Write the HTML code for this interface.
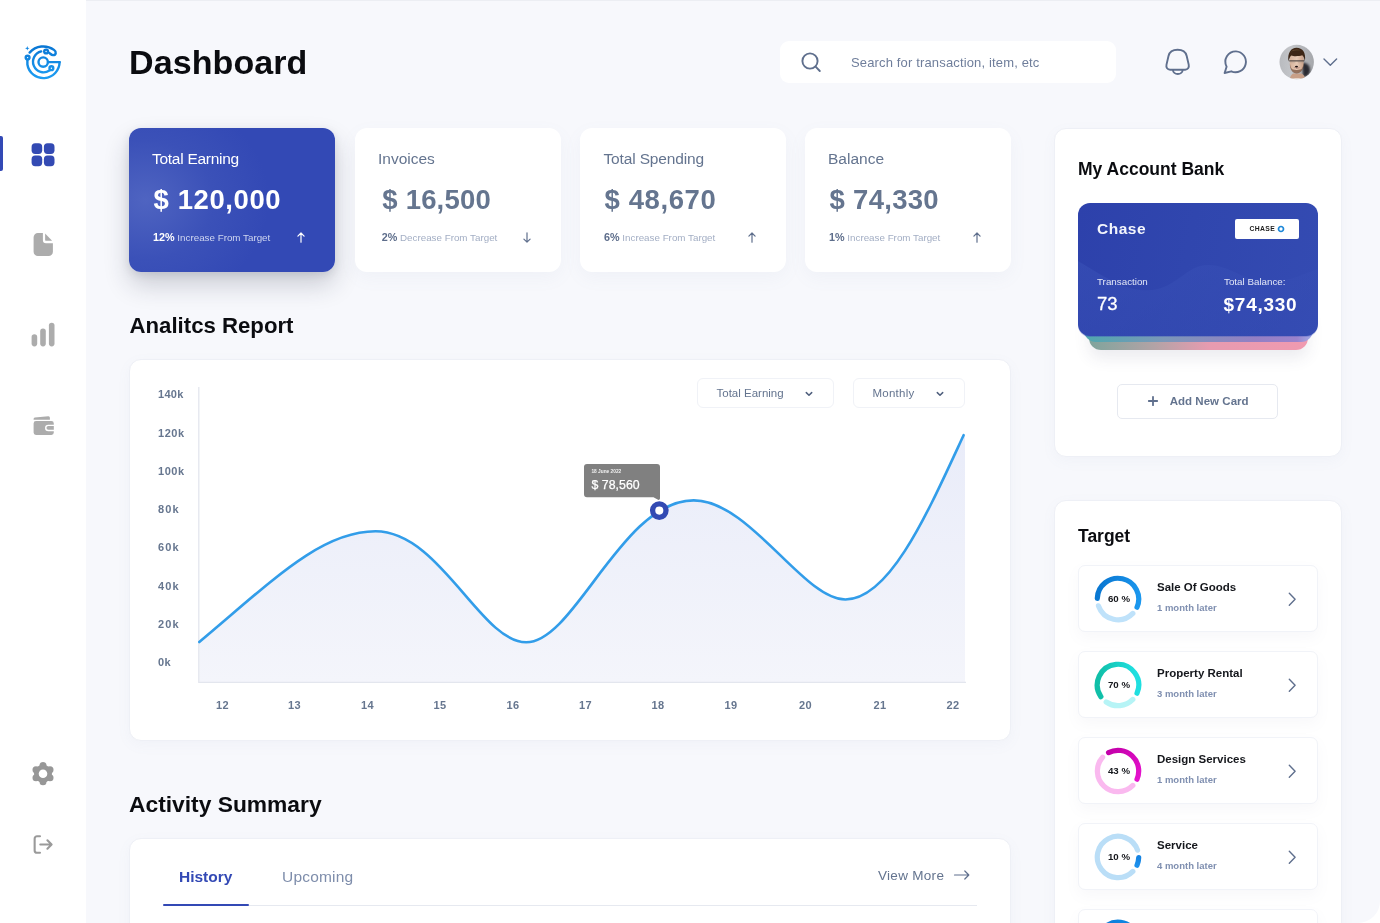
<!DOCTYPE html>
<html lang="en">
<head>
<meta charset="utf-8">
<title>Dashboard</title>
<style>
*{box-sizing:border-box;margin:0;padding:0}
html,body{width:1380px;height:923px;overflow:hidden;background:#fff}
body{font-family:"Liberation Sans",sans-serif;color:#0f1115;position:relative}
#page{position:absolute;left:0;top:0;width:1380px;height:923px;background:#f7f8fc;border-bottom-right-radius:22px;overflow:hidden}
#topline{position:absolute;left:0;top:0;width:1380px;height:1px;background:#eceef3}
.a{position:absolute}
.t{position:absolute;white-space:nowrap;line-height:1}
.b{font-weight:700}
#side{position:absolute;left:0;top:0;width:86px;height:923px;background:#fff}
.h1{font-size:34px;font-weight:700;color:#0b0c10;letter-spacing:.1px}
.h2{font-size:22px;font-weight:700;color:#0b0c10}
.h3{font-size:17.5px;font-weight:700;color:#0b0c10}
.card{position:absolute;background:#fff;border-radius:12px}
.stat{width:206px;height:144px;top:128px;box-shadow:0 6px 18px rgba(120,130,170,.06)}
.stat .lab{left:23px;top:23px;font-size:15.5px;color:#64748f}
.stat .val{left:24.500px;top:58px;font-size:27.5px;letter-spacing:.2px;font-weight:700;color:#65758f}
.stat .sub{left:24px;top:104px;font-size:9.8px;color:#a3aec4}
.stat .sub b{color:#5d6d8b;font-size:10.8px}
.stat svg{position:absolute;left:166.300px;top:102px}
.s1{background:radial-gradient(ellipse 60% 75% at 8% 50%,#4f64c1 0%,#3b51b8 55%,#3349b5 100%);box-shadow:0 13px 26px rgba(30,35,60,.20),0 3px 8px rgba(30,35,60,.10)}
.s1 .lab,.s1 .val,.s1 .sub b{color:#fff}
.s1 .sub{color:#cfd6f0}
.panel{position:absolute;background:#fff;border-radius:12px;border:1px solid #eef0f6}
.ylab{font-size:11px;font-weight:700;letter-spacing:.3px;color:#66768f;left:158px}
.xlab{font-size:11px;font-weight:700;letter-spacing:.3px;color:#66768f;top:699.500px;transform:translateX(-50%)}
.dd{position:absolute;top:378px;height:30px;border:1px solid #f0f2f7;border-radius:6px;background:#fff}
.dd .t{font-size:11.5px;color:#64748f;top:9px}
.titem{position:absolute;left:1078px;width:240px;height:67px;background:#fff;border:1px solid #f1f3f8;border-radius:7px;box-shadow:0 6px 14px rgba(120,130,170,.055)}
.titem .nm{left:78px;top:15.500px;font-size:11.5px;font-weight:700;color:#15171c}
.titem .sb{left:78px;top:37px;font-size:9.5px;font-weight:700;color:#7f8fb0}
.titem .pc{left:0;width:80px;text-align:center;top:28.200px;font-size:9.700px;font-weight:700;color:#15171c}
.titem svg.dn{position:absolute;left:14.500px;top:8.500px}
.titem svg.ch{position:absolute;left:206.500px;top:23.700px}
</style>
</head>
<body>
<div id="page">
<div id="topline"></div>

<!-- SIDEBAR -->
<div id="side">
<!-- logo -->
<svg class="a" style="left:18px;top:38px" width="50" height="50" viewBox="0 0 50 50" fill="none">
<defs><linearGradient id="lg" x1="0" y1="6" x2="0" y2="42" gradientUnits="userSpaceOnUse"><stop offset="0" stop-color="#0874d2"/><stop offset="1" stop-color="#1e9ff4"/></linearGradient></defs>
<g stroke="url(#lg)" stroke-width="2.4" stroke-linecap="round" stroke-linejoin="round">
<circle cx="25.2" cy="24.1" r="4.7"/>
<path d="M30 24.1H41.6"/>
<path d="M41.6 24.1A16.2 16.2 0 0 1 9.4 26.5V22.3"/>
<circle cx="9.6" cy="19.6" r="1.9"/>
<path d="M11.6 14.6A18.3 18.3 0 0 1 36 11.9C38.7 13.8 38.2 17 35 17.1C33 17.1 32.2 15.2 30.5 14.5"/>
<circle cx="28.1" cy="13.5" r="1.9"/>
<path d="M23.2 13.4A10.6 10.6 0 1 0 31.4 32.6"/>
<circle cx="33.4" cy="30.2" r="1.9"/>
</g>
<path d="M9.3 8.1L9.9 9.7L11.5 10.3L9.9 10.9L9.3 12.5L8.700 10.9L7.100 10.3L8.700 9.7Z" fill="#1488e4"/>
</svg>
<!-- active bar -->
<div class="a" style="left:0;top:136px;width:3px;height:35px;background:#3349b5;border-radius:0 2px 2px 0"></div>
<!-- dashboard icon -->
<svg class="a" style="left:31px;top:143px" width="24" height="24" viewBox="0 0 24 24" fill="#334ab3">
<rect x=".6" y=".3" width="10.6" height="10.6" rx="3.6"/><rect x="12.9" y=".3" width="10.6" height="10.6" rx="3.6"/><rect x=".6" y="12.6" width="10.6" height="10.6" rx="3.6"/><rect x="12.9" y="12.6" width="10.6" height="10.6" rx="3.6"/>
</svg>
<!-- file icon -->
<svg class="a" style="left:31px;top:231px" width="24" height="26" viewBox="0 0 24 26" fill="#acacac">
<path d="M6.900 2H11.900V9.200A3 3 0 0 0 14.900 12.200H21.900V20.700A4.300 4.300 0 0 1 17.600 25H6.900A4.300 4.300 0 0 1 2.600 20.700V6.300A4.300 4.300 0 0 1 6.900 2Z"/>
<path d="M14.100 2.600L21.100 9.800H14.800A.7 .7 0 0 1 14.100 9.100Z"/>
</svg>
<!-- bars icon -->
<svg class="a" style="left:31px;top:322px" width="24" height="26" viewBox="0 0 24 26" fill="#acacac">
<rect x=".6" y="12.2" width="5.6" height="12.2" rx="2.8"/><rect x="9.2" y="6.6" width="5.6" height="17.8" rx="2.8"/><rect x="17.9" y=".8" width="5.6" height="23.6" rx="2.8"/>
</svg>
<!-- wallet icon -->
<svg class="a" style="left:31px;top:414px" width="24" height="23" viewBox="0 0 24 23" fill="#acacac">
<path d="M2.600 5.700V4.900A1.400 1.400 0 0 1 3.800 3.500L17.300 2.200A1.500 1.500 0 0 1 18.900 3.700V5.700Z"/>
<path d="M5 7H20.400A2.400 2.400 0 0 1 22.800 9.400V10.700H17.300A3.250 3.250 0 0 0 17.300 17.200H22.800V18.500A2.400 2.400 0 0 1 20.400 20.900H5A2.400 2.400 0 0 1 2.600 18.500V9.400A2.400 2.400 0 0 1 5 7Z"/>
<path d="M17.300 12H22.800V15.700H17.300A1.850 1.850 0 0 1 17.300 12Z"/>
</svg>
<!-- gear icon -->
<svg class="a" style="left:31px;top:761px" width="24" height="25" viewBox="0 0 24 25" fill="#979797">
<circle cx="12" cy="12.7" r="9"/><circle cx="12.00" cy="4.60" r="3.5"/><circle cx="19.01" cy="8.65" r="3.5"/><circle cx="19.01" cy="16.75" r="3.5"/><circle cx="12.00" cy="20.80" r="3.5"/><circle cx="4.99" cy="16.75" r="3.5"/><circle cx="4.99" cy="8.65" r="3.5"/><circle cx="12" cy="12.700" r="4.300" fill="#fff"/>
</svg>
<!-- logout icon -->
<svg class="a" style="left:31px;top:833px" width="24" height="23" viewBox="0 0 24 23" fill="none" stroke="#9a9a9a" stroke-width="2.100" stroke-linecap="round" stroke-linejoin="round">
<path d="M9 3.250H6.050A2.400 2.400 0 0 0 3.650 5.650V17.400A2.400 2.400 0 0 0 6.050 19.800H9"/>
<path d="M9.300 11.500H20.400M16.400 7.300L20.600 11.500L16.400 15.700"/>
</svg>
</div>

<!-- HEADER -->
<div class="t h1" style="left:129px;top:45px">Dashboard</div>
<div class="a" style="left:780px;top:41px;width:336px;height:42px;background:#fff;border-radius:9px"></div>
<svg class="a" style="left:799px;top:50px" width="24" height="24" viewBox="0 0 24 24" fill="none" stroke="#5f6f8d" stroke-width="1.9" stroke-linecap="round"><circle cx="11" cy="11" r="7.6"/><path d="M16.600 16.700L20.800 21"/></svg>
<div class="t" style="left:851px;top:56px;font-size:13px;letter-spacing:.15px;color:#6f7e9b">Search for transaction, item, etc</div>
<!-- bell -->
<svg class="a" style="left:1162px;top:46px" width="32" height="32" viewBox="0 0 32 32" fill="none" stroke="#5f6f8d" stroke-width="1.9" stroke-linecap="round" stroke-linejoin="round">
<path d="M15.600 3.800C11.200 3.800 7.500 5.900 6.500 10L4.500 18.600C3.800 21.600 5.500 23.700 8.100 23.700H23.100C25.700 23.700 27.400 21.600 26.700 18.600L24.700 10C23.700 5.900 20 3.800 15.600 3.800Z"/>
<path d="M11 23.900A4.800 4.100 0 0 0 20.600 23.900"/>
</svg>
<!-- chat -->
<svg class="a" style="left:1220px;top:46px" width="32" height="32" viewBox="0 0 32 32" fill="none" stroke="#5f6f8d" stroke-width="1.9" stroke-linecap="round" stroke-linejoin="round">
<path d="M16 5.400A10.400 10.400 0 1 1 11.300 25.300L4.600 27L6.600 20.700A10.400 10.400 0 0 1 16 5.400Z"/>
</svg>
<!-- avatar -->
<svg class="a" style="left:1279px;top:44px" width="36" height="36" viewBox="0 0 36 36">
<defs><clipPath id="avc"><circle cx="17.700" cy="18.050" r="17.200"/></clipPath><filter id="avb" x="-30%" y="-30%" width="160%" height="160%"><feGaussianBlur stdDeviation=".7"/></filter><filter id="avb2" x="-30%" y="-30%" width="160%" height="160%"><feGaussianBlur stdDeviation="1.300"/></filter>
<linearGradient id="avbg" x1="0" y1="0" x2="1" y2="0"><stop offset="0" stop-color="#b9bbbf"/><stop offset=".35" stop-color="#c3c5c9"/><stop offset=".7" stop-color="#b1b3b7"/><stop offset="1" stop-color="#a4a6aa"/></linearGradient>
<linearGradient id="avsk" x1="0" y1="0" x2="1" y2="0"><stop offset="0" stop-color="#d8b49c"/><stop offset=".5" stop-color="#e6c9b4"/><stop offset="1" stop-color="#c9a189"/></linearGradient></defs>
<g clip-path="url(#avc)"><rect width="36" height="36" fill="url(#avbg)"/>
<path d="M23 19C27 18 31 21 31 26S28 33 24 33Z" fill="#2b2b30" filter="url(#avb2)"/>
<g filter="url(#avb)">
<path d="M10.500 36C11 32.500 12.500 30.500 14 29.500H22.500C24.500 30.500 26 32.500 26.500 36Z" fill="#c89f87"/>
<path d="M8 37C9 35 13 34.300 18 34.300S27 35 28.500 37Z" fill="#efe6df"/>
<path d="M10.800 13C10.800 9 13.500 8 17.700 8S24.600 9 24.600 13V19.500C24.600 24.500 21.300 29 17.700 29S10.800 24.500 10.800 19.500Z" fill="url(#avsk)"/>
<path d="M10.900 19.500C11.500 23.500 12.500 25 14 25.600C16 26.200 19.500 26.200 21.500 25.600C23 25 24 23.500 24.500 19.500C24.800 25.500 21.600 29.500 17.700 29.500S10.600 25.500 10.900 19.500Z" fill="#7a5440" opacity=".75"/>
<path d="M9.500 17.500C8.200 9 12 3.800 17.500 3.800C23.700 3.800 27.200 8.500 25.900 17.500C25.400 14 24.600 12.200 23.200 11.200C20 12.300 14.500 12.500 12.300 11.400C10.900 12.600 10.200 14.500 9.500 17.500Z" fill="#3c2819"/>
<path d="M12 7.500C14 5.200 19 4.800 22 6.500C19 6 15 6.300 12 7.500Z" fill="#6a4a30"/>
<path d="M10.200 16.900H25.200" stroke="#3a3636" stroke-width="1"/>
<path d="M11.200 17.300H16.200V19.200H11.200ZM19 17.300H24V19.200H19Z" fill="#8a7f7c" opacity=".18"/>
<path d="M14.500 23.200C16 24.800 19.500 24.800 21 23.200C19.500 24 16 24 14.500 23.200Z" fill="#8a4a48"/>
<ellipse cx="17.500" cy="22.600" rx="1.500" ry=".85" fill="#1a0f0f"/>
</g></g>
</svg>
<svg class="a" style="left:1322px;top:56px" width="16" height="12" viewBox="0 0 16 12" fill="none" stroke="#5f6f8d" stroke-width="1.400" stroke-linecap="round" stroke-linejoin="round"><path d="M2 3L8.300 9.200L14.600 3"/></svg>

<!-- STATS -->
<div class="card stat s1" style="left:129px">
<div class="t lab" style="letter-spacing:-.27px">Total Earning</div><div class="t val" style="letter-spacing:.6px">$ 120,000</div><div class="t sub"><b>12%</b> Increase From Target</div><svg width="12" height="14" viewBox="0 0 12 14" fill="none" stroke="#ffffff" stroke-width="1.2" stroke-linecap="round" stroke-linejoin="round"><path d="M6 12.200V3.200M2.900 6.100L6 3L9.100 6.100"/></svg>
</div>
<div class="card stat" style="left:355px">
<div class="t lab">Invoices</div><div class="t val" style="left:27.300px">$ 16,500</div><div class="t sub" style="left:26.700px"><b>2%</b> Decrease From Target</div><svg width="12" height="14" viewBox="0 0 12 14" fill="none" stroke="#5f6f8d" stroke-width="1.2" stroke-linecap="round" stroke-linejoin="round"><path d="M6 2.800V12M2.900 9.100L6 12.200L9.100 9.100"/></svg>
</div>
<div class="card stat" style="left:580px">
<div class="t lab" style="letter-spacing:-.15px;left:23.500px">Total Spending</div><div class="t val" style="letter-spacing:.6px">$ 48,670</div><div class="t sub"><b>6%</b> Increase From Target</div><svg width="12" height="14" viewBox="0 0 12 14" fill="none" stroke="#5f6f8d" stroke-width="1.2" stroke-linecap="round" stroke-linejoin="round"><path d="M6 12.200V3.200M2.900 6.100L6 3L9.100 6.100"/></svg>
</div>
<div class="card stat" style="left:805px">
<div class="t lab">Balance</div><div class="t val" style="letter-spacing:.3px">$ 74,330</div><div class="t sub"><b>1%</b> Increase From Target</div><svg width="12" height="14" viewBox="0 0 12 14" fill="none" stroke="#5f6f8d" stroke-width="1.2" stroke-linecap="round" stroke-linejoin="round"><path d="M6 12.200V3.200M2.900 6.100L6 3L9.100 6.100"/></svg>
</div>

<!-- ANALYTICS -->
<div class="panel" style="left:129px;top:359px;width:882px;height:381.500px;box-shadow:0 4px 14px rgba(120,130,170,.05)"></div>
<div class="t ylab" style="top:389.2px">140k</div><div class="t ylab" style="top:427.5px;letter-spacing:.55px">120k</div><div class="t ylab" style="top:465.8px;letter-spacing:.55px">100k</div><div class="t ylab" style="top:504.1px;letter-spacing:1.1px">80k</div><div class="t ylab" style="top:542.4px;letter-spacing:1.1px">60k</div><div class="t ylab" style="top:580.7px;letter-spacing:1.1px">40k</div><div class="t ylab" style="top:619.0px;letter-spacing:1.1px">20k</div><div class="t ylab" style="top:657.3px">0k</div>
<div class="t xlab" style="left:222.5px">12</div><div class="t xlab" style="left:294.5px">13</div><div class="t xlab" style="left:367.5px">14</div><div class="t xlab" style="left:440.0px">15</div><div class="t xlab" style="left:513.0px">16</div><div class="t xlab" style="left:585.5px">17</div><div class="t xlab" style="left:658.0px">18</div><div class="t xlab" style="left:731.0px">19</div><div class="t xlab" style="left:805.5px">20</div><div class="t xlab" style="left:880.0px">21</div><div class="t xlab" style="left:953.0px">22</div>
<svg class="a" style="left:0;top:0" width="1380" height="923" viewBox="0 0 1380 923" fill="none">
<defs><linearGradient id="ar" x1="0" y1="435" x2="0" y2="682" gradientUnits="userSpaceOnUse"><stop offset="0" stop-color="#e9ecf9"/><stop offset="1" stop-color="#f4f5fb"/></linearGradient></defs>
<path d="M199.3 642C270 583 320 531.3 375.5 531.3C440 531.3 480.8 642.3 526.2 642.3C575 642.3 621.8 500.4 693.7 500.4C750 500.4 803.3 599.5 845.4 599.5C890 599.5 928 512 963.6 435.2L965 435.2V682H199.3Z" fill="url(#ar)"/>
<path d="M198.800 387V682.300H966" stroke="#e3e6ee" stroke-width="1.300"/>
<path d="M199.3 642C270 583 320 531.3 375.5 531.3C440 531.3 480.8 642.3 526.2 642.3C575 642.3 621.8 500.4 693.7 500.4C750 500.4 803.3 599.5 845.4 599.5C890 599.5 928 512 963.6 435.2" stroke="#329de9" stroke-width="2.600" stroke-linecap="round"/>
<path d="M587 464H657A3 3 0 0 1 660 467V498.500A1.500 1.500 0 0 1 657.600 499.600L653.500 497.300H587A3 3 0 0 1 584 494.300V467A3 3 0 0 1 587 464Z" fill="#808080"/>
<circle cx="659.300" cy="510.600" r="6.700" fill="#fff" stroke="#334ab3" stroke-width="5.300"/>
</svg>
<div class="t" style="left:591.400px;top:470.200px;font-size:4.8px;color:#f0f0f0;font-weight:700">18 June 2022</div>
<div class="t" style="left:591.400px;top:478.500px;font-size:12.3px;letter-spacing:.05px;color:#fff;-webkit-text-stroke:.25px #fff">$ 78,560</div>
<div class="dd" style="left:697px;width:136.500px"><div class="t" style="left:18.500px">Total Earning</div><svg class="a" style="left:105px;top:9px" width="12" height="12" viewBox="0 0 12 12" fill="none" stroke="#4f5f7d" stroke-width="1.500" stroke-linecap="round" stroke-linejoin="round"><path d="M3.300 4.600L6 7.200L8.700 4.600"/></svg></div>
<div class="dd" style="left:853px;width:111.500px"><div class="t" style="left:18.500px;letter-spacing:.25px">Monthly</div><svg class="a" style="left:80px;top:9px" width="12" height="12" viewBox="0 0 12 12" fill="none" stroke="#4f5f7d" stroke-width="1.500" stroke-linecap="round" stroke-linejoin="round"><path d="M3.300 4.600L6 7.200L8.700 4.600"/></svg></div>
<div class="t h2" style="left:129.500px;top:315px;font-size:22.2px">Analitcs Report</div>

<!-- ACTIVITY -->
<div class="panel" style="left:129px;top:838px;width:882px;height:120px;box-shadow:0 4px 14px rgba(120,130,170,.05)"></div>
<div class="a" style="left:163px;top:904.500px;width:814px;height:1px;background:#e6e9f0"></div>
<div class="a" style="left:163px;top:903.500px;width:86px;height:2.600px;border-radius:2px;background:#3349b5"></div>
<div class="t b" style="left:179px;top:869px;font-size:15.5px;color:#3349b5">History</div>
<div class="t" style="left:282px;top:869px;font-size:15.5px;letter-spacing:.2px;color:#7e8dab">Upcoming</div>
<div class="t" style="left:878px;top:868.500px;font-size:13.5px;letter-spacing:.3px;color:#64748f">View More</div>
<svg class="a" style="left:952px;top:868px" width="20" height="14" viewBox="0 0 20 14" fill="none" stroke="#5f6f8d" stroke-width="1.200" stroke-linecap="round" stroke-linejoin="round"><path d="M2.500 7H16.800M12.800 3L16.800 7L12.800 11"/></svg>
<div class="t h2" style="left:129px;top:793px;font-size:22.8px">Activity Summary</div>

<!-- RIGHT COLUMN -->
<div class="panel" style="left:1054px;top:128px;width:288px;height:329px;box-shadow:0 4px 14px rgba(120,130,170,.05)"></div>
<div class="t h3" style="left:1078px;top:160.500px">My Account Bank</div>
<!-- stacked cards -->
<div class="a" style="left:1088.500px;top:300px;width:219.500px;height:50px;border-radius:12px;background:linear-gradient(90deg,#7fa49c 0%,#b3a3a6 30%,#e79bb0 55%,#f09ab0 100%);box-shadow:0 8px 16px rgba(60,60,100,.10)"></div>
<div class="a" style="left:1084px;top:290px;width:228.500px;height:52px;border-radius:12px;background:linear-gradient(90deg,#4fa8ae 0%,#7b97b8 35%,#947fc4 75%,#9a82cc 93%,#a3aeea 100%)"></div>
<div class="a" id="bank" style="left:1078px;top:202.500px;width:240px;height:133.500px;border-radius:12px;overflow:hidden;background:linear-gradient(100deg,#2d41ab 0%,#3046ae 45%,#344bb2 100%);"></div>
<svg class="a" style="left:1078px;top:202.500px;border-radius:12px" width="240" height="134" viewBox="0 0 240 134"><defs><linearGradient id="wv" x1="0" y1="0" x2="1" y2="1"><stop offset="0" stop-color="#3a52b8" stop-opacity=".55"/><stop offset="1" stop-color="#364db4" stop-opacity=".25"/></linearGradient></defs><path d="M0 58C24 72 48 90 74 87C100 84 108 62 130 62C150 62 160 74 182 78C206 82 226 70 240 66V134H0Z" fill="url(#wv)"/></svg>
<div class="t b" style="left:1097px;top:220.500px;font-size:15.5px;letter-spacing:.5px;color:#f3f5fc">Chase</div>
<div class="a" style="left:1235px;top:219px;width:63.500px;height:19.500px;border-radius:2px;background:#fff"></div>
<div class="t b" style="left:1249.500px;top:225.700px;font-size:6.800px;letter-spacing:.35px;color:#1c1c1c">CHASE</div>
<svg class="a" style="left:1276.500px;top:224.700px" width="8" height="8" viewBox="0 0 8 8"><circle cx="4" cy="4" r="2.500" fill="none" stroke="#1c87d8" stroke-width="1.700"/></svg>
<div class="t" style="left:1097px;top:276.500px;font-size:9.800px;color:#e3e7f7">Transaction</div>
<div class="t" style="left:1224px;top:276.500px;font-size:9.800px;color:#e3e7f7">Total Balance:</div>
<div class="t" style="left:1097px;top:295px;font-size:18.500px;color:#fff;-webkit-text-stroke:.3px #fff">73</div>
<div class="t b" style="left:1223.500px;top:294.500px;font-size:19px;letter-spacing:.75px;color:#fff">$74,330</div>
<!-- add new card -->
<div class="a" style="left:1117px;top:384px;width:161px;height:35px;border:1px solid #e6e9f0;border-radius:5px;background:#fff"></div>
<svg class="a" style="left:1147px;top:395px" width="12" height="12" viewBox="0 0 12 12" fill="none" stroke="#5f6f8d" stroke-width="1.800" stroke-linecap="round"><path d="M6 1.800V10.200M1.800 6H10.200"/></svg>
<div class="t b" style="left:1169.700px;top:396px;font-size:11.500px;letter-spacing:.03px;color:#64748f">Add New Card</div>
<!-- target -->
<div class="panel" style="left:1054px;top:500px;width:288px;height:460px;box-shadow:0 4px 14px rgba(120,130,170,.05)"></div>
<div class="t h3" style="left:1078px;top:527.500px">Target</div>
<div class="titem" style="top:565px"><svg class="dn" width="48" height="48" viewBox="0 0 48 48" fill="none" stroke-width="5.200" stroke-linecap="round"><defs><linearGradient id="g1" x1="3.3" y1="23.4" x2="43.0" y2="32.2" gradientUnits="userSpaceOnUse"><stop offset="0" stop-color="#0a78d2"/><stop offset="1" stop-color="#1b97ee"/></linearGradient></defs><path d="M38.84 38.43A20.7 20.7 0 0 1 4.45 30.81" stroke="#bfe2fa"/><path d="M3.31 23.39A20.7 20.7 0 1 1 43.01 32.19" stroke="url(#g1)"/></svg><div class="t pc">60 %</div><div class="t nm">Sale Of Goods</div><div class="t sb">1 month later</div><svg class="ch" width="12" height="18" viewBox="0 0 12 18" fill="none" stroke="#5f6f8d" stroke-width="1.400" stroke-linecap="round" stroke-linejoin="round"><path d="M3.300 3.200L9.100 9.200L3.300 15.200"/></svg></div>
<div class="titem" style="top:651px"><svg class="dn" width="48" height="48" viewBox="0 0 48 48" fill="none" stroke-width="5.200" stroke-linecap="round"><defs><linearGradient id="g2" x1="6.9" y1="35.7" x2="43.0" y2="32.2" gradientUnits="userSpaceOnUse"><stop offset="0" stop-color="#10bfa8"/><stop offset="1" stop-color="#1fdfe0"/></linearGradient></defs><path d="M38.84 38.43A20.7 20.7 0 0 1 12.19 41.00" stroke="#b6f4f6"/><path d="M6.90 35.66A20.7 20.7 0 1 1 43.01 32.19" stroke="url(#g2)"/></svg><div class="t pc">70 %</div><div class="t nm">Property Rental</div><div class="t sb">3 month later</div><svg class="ch" width="12" height="18" viewBox="0 0 12 18" fill="none" stroke="#5f6f8d" stroke-width="1.400" stroke-linecap="round" stroke-linejoin="round"><path d="M3.300 3.200L9.100 9.200L3.300 15.200"/></svg></div>
<div class="titem" style="top:737px"><svg class="dn" width="48" height="48" viewBox="0 0 48 48" fill="none" stroke-width="5.200" stroke-linecap="round"><defs><linearGradient id="g3" x1="14.6" y1="5.6" x2="43.0" y2="32.2" gradientUnits="userSpaceOnUse"><stop offset="0" stop-color="#c400aa"/><stop offset="1" stop-color="#e412cc"/></linearGradient></defs><path d="M38.84 38.43A20.7 20.7 0 0 1 8.62 10.15" stroke="#fab9ef"/><path d="M14.57 5.57A20.7 20.7 0 0 1 43.01 32.19" stroke="url(#g3)"/></svg><div class="t pc">43 %</div><div class="t nm">Design Services</div><div class="t sb">1 month later</div><svg class="ch" width="12" height="18" viewBox="0 0 12 18" fill="none" stroke="#5f6f8d" stroke-width="1.400" stroke-linecap="round" stroke-linejoin="round"><path d="M3.300 3.200L9.100 9.200L3.300 15.200"/></svg></div>
<div class="titem" style="top:823px"><svg class="dn" width="48" height="48" viewBox="0 0 48 48" fill="none" stroke-width="5.200" stroke-linecap="round"><defs><linearGradient id="g4" x1="44.7" y1="24.6" x2="43.0" y2="32.2" gradientUnits="userSpaceOnUse"><stop offset="0" stop-color="#1583e2"/><stop offset="1" stop-color="#1c90ec"/></linearGradient></defs><path d="M38.84 38.43A20.7 20.7 0 1 1 43.55 17.19" stroke="#badef7"/><path d="M44.69 24.61A20.7 20.7 0 0 1 43.01 32.19" stroke="url(#g4)"/></svg><div class="t pc">10 %</div><div class="t nm">Service</div><div class="t sb">4 month later</div><svg class="ch" width="12" height="18" viewBox="0 0 12 18" fill="none" stroke="#5f6f8d" stroke-width="1.400" stroke-linecap="round" stroke-linejoin="round"><path d="M3.300 3.200L9.100 9.200L3.300 15.200"/></svg></div>
<div class="titem" style="top:909px"><svg class="dn" width="48" height="48" viewBox="0 0 48 48" fill="none" stroke-width="5.200" stroke-linecap="round"><defs><linearGradient id="g5" x1="23.4" y1="44.7" x2="43.0" y2="32.2" gradientUnits="userSpaceOnUse"><stop offset="0" stop-color="#0a70cc"/><stop offset="1" stop-color="#0f84e0"/></linearGradient></defs><path d="M38.84 38.43A20.7 20.7 0 0 1 30.81 43.55" stroke="#bfe2fa"/><path d="M23.39 44.69A20.7 20.7 0 1 1 43.01 32.19" stroke="url(#g5)"/></svg><div class="t pc">85 %</div><div class="t nm">Consulting</div><div class="t sb">2 month later</div><svg class="ch" width="12" height="18" viewBox="0 0 12 18" fill="none" stroke="#5f6f8d" stroke-width="1.400" stroke-linecap="round" stroke-linejoin="round"><path d="M3.300 3.200L9.100 9.200L3.300 15.200"/></svg></div>

</div>
</body>
</html>
